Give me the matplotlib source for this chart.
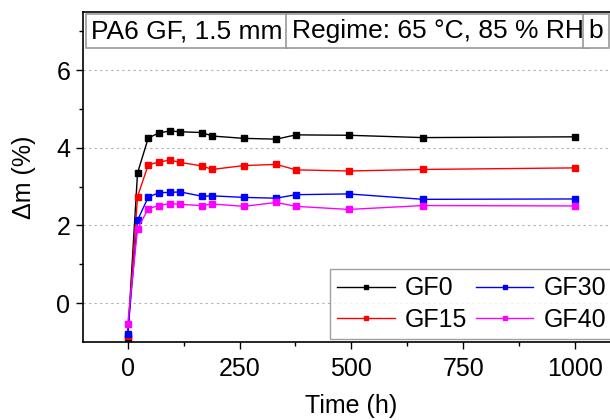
import matplotlib.pyplot as plt

plt.rcParams['font.family'] = ['Liberation Sans', 'DejaVu Sans']

# data
time_h = [0, 22, 46, 70, 94, 118, 166, 189, 260, 332, 376, 494, 660, 1000]
gf0 = [-0.90, 3.35, 4.25, 4.38, 4.43, 4.41, 4.39, 4.30, 4.24, 4.22, 4.33, 4.32, 4.26, 4.28]
gf15 = [-0.85, 2.74, 3.56, 3.63, 3.68, 3.62, 3.53, 3.44, 3.54, 3.57, 3.43, 3.40, 3.44, 3.48]
gf30 = [-0.80, 2.13, 2.73, 2.84, 2.85, 2.86, 2.75, 2.76, 2.72, 2.70, 2.79, 2.81, 2.67, 2.68]
gf40 = [-0.54, 1.91, 2.43, 2.51, 2.56, 2.54, 2.51, 2.55, 2.49, 2.59, 2.49, 2.41, 2.51, 2.50]

series = [("GF0", gf0, "black"), ("GF15", gf15, "red"),
          ("GF30", gf30, "blue"), ("GF40", gf40, "magenta")]

fig = plt.figure(figsize=(6.1, 4.2), dpi=100)
ax = fig.add_axes([0.136, 0.186, 0.880, 0.786])

for name, vals, col in series:
    ax.plot(time_h, vals, color=col, lw=1.0, marker='s', ms=4.5,
            markeredgecolor=col, label=name)

ax.set_xlim(-100, 1100)
ax.set_ylim(-1, 7.5)
ax.set_xticks([0, 250, 500, 750, 1000])
ax.set_xticks([125, 375, 625, 875], minor=True)
ax.set_yticks([0, 2, 4, 6])
ax.set_yticks([1, 3, 5, 7], minor=True)
ax.tick_params(labelsize=18, direction='out', length=5, width=1, pad=4)
ax.tick_params(axis='x', pad=6)
ax.tick_params(which='minor', direction='out', length=3, width=1)
ax.grid(axis='y', which='major', ls=(0, (2, 3)), color='#b0b0b0', lw=0.8)
ax.set_axisbelow(True)
for s in ax.spines.values():
    s.set_linewidth(1.2)

ax.set_xlabel("Time (h)", fontsize=18, labelpad=9)
ax.set_ylabel("Δm (%)", fontsize=18, labelpad=15)

def boxed(x, txt):
    ax.text(x, 0.978, txt, transform=ax.transAxes, fontsize=19,
            va='top', ha='left',
            bbox=dict(boxstyle='square,pad=0.2', fc='white', ec='#999999', lw=1.2))

boxed(0.015, "PA6 GF, 1.5 mm")
boxed(0.389, "Regime: 65 °C, 85 % RH")
boxed(0.942, "b")

leg = ax.legend(ncol=2, loc='lower right', bbox_to_anchor=(0.993, 0.0), fontsize=18,
                frameon=True, fancybox=False, edgecolor='#888888',
                handlelength=2.3, columnspacing=0.35, handletextpad=0.4,
                borderpad=0.3, labelspacing=0.3, borderaxespad=0.1,
                markerscale=0.75)
leg.get_frame().set_linewidth(1.0)

fig.savefig("out.png", dpi=100)
